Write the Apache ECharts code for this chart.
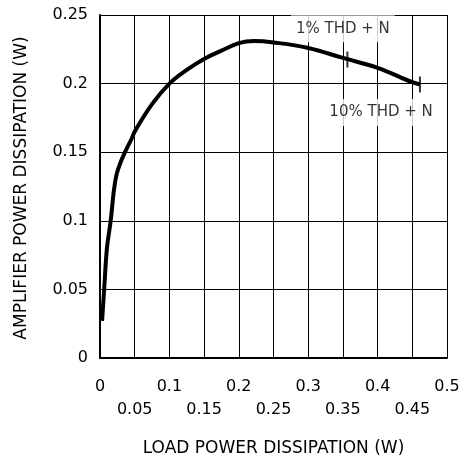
<!DOCTYPE html>
<html><head><meta charset="utf-8">
<script src="https://cdn.jsdelivr.net/npm/echarts@6/dist/echarts.min.js"></script>
<style>html,body{margin:0;padding:0;background:#fff}#c{width:468px;height:462px}</style>
</head><body><div id="c"></div>
<script>
// Curve: load power (W) vs amplifier power dissipation (W)
const loadPower = [0.003, 0.006, 0.010, 0.0154, 0.020, 0.024, 0.030, 0.036, 0.0457, 0.05, 0.075, 0.1, 0.125, 0.15, 0.175, 0.2, 0.222, 0.25, 0.3, 0.35, 0.4, 0.45, 0.461];
const ampPower  = [0.027, 0.050, 0.080, 0.100, 0.122, 0.134, 0.143, 0.150, 0.160, 0.165, 0.185, 0.200, 0.210, 0.218, 0.224, 0.2295, 0.231, 0.230, 0.226, 0.2187, 0.2115, 0.201, 0.1994];
// Tick labels
const xTickLabels = ['0', '0.05', '0.1', '0.15', '0.2', '0.25', '0.3', '0.35', '0.4', '0.45', '0.5'];
const yTickLabels = ['0', '0.05', '0.1', '0.15', '0.2', '0.25'];
// THD markers
const thdNames = ['1% THD + N', '10% THD + N'];
const thdX = [0.3565, 0.461];
const thdY = [0.2175, 0.1994];
const noteX = [0.350, 0.405];
const noteY = [0.240, 0.179];

const FONT = "'DejaVu Sans', sans-serif";
const chart = echarts.init(document.getElementById('c'), null, {renderer: 'canvas'});
const curve = loadPower.map((x, i) => [x, ampPower[i]]);
const ticks = thdX.map((x, i) => [x, thdY[i]]);
const notes = noteX.map((x, i) => ({value: [x, noteY[i]], name: thdNames[i]}));

chart.setOption({
  animation: false,
  backgroundColor: '#fff',
  grid: {left: 100, top: 15, right: 21, bottom: 101},
  xAxis: {
    type: 'value', min: 0, max: 0.5, interval: 0.05,
    axisLine: {show: true, onZero: false, lineStyle: {color: '#000', width: 2}},
    axisTick: {show: false},
    splitLine: {show: true, lineStyle: {color: '#000', width: 1}},
    axisLabel: {
      color: '#000', fontFamily: FONT, fontSize: 16, margin: 17, lineHeight: 23,
      formatter: (v) => {
        const i = Math.round(v / 0.05);
        const t = xTickLabels[i];
        return i % 2 === 1 ? '\n' + t : t;
      }
    },
    name: 'LOAD POWER DISSIPATION (W)', nameLocation: 'middle', nameGap: 82,
    nameTextStyle: {color: '#000', fontFamily: FONT, fontSize: 17}
  },
  yAxis: {
    type: 'value', min: 0, max: 0.25, interval: 0.05,
    axisLine: {show: true, onZero: false, lineStyle: {color: '#000', width: 2}},
    axisTick: {show: false},
    splitLine: {show: true, lineStyle: {color: '#000', width: 1}},
    axisLabel: {
      color: '#000', fontFamily: FONT, fontSize: 16, margin: 12,
      formatter: (v) => yTickLabels[Math.round(v / 0.05)]
    }
  },
  graphic: [{
    type: 'text', x: 22, y: 188, rotation: Math.PI / 2,
    style: {text: 'AMPLIFIER POWER DISSIPATION (W)', fill: '#000', font: '17px ' + FONT,
            textAlign: 'center', textVerticalAlign: 'middle'}
  }],
  series: [
    {type: 'line', data: curve, smooth: 0.4, showSymbol: false,
     lineStyle: {color: '#000', width: 4}, z: 3},
    {type: 'scatter', data: ticks, symbol: 'rect', symbolSize: [2, 16],
     itemStyle: {color: '#000'}, z: 4},
    {type: 'scatter', data: notes, symbolSize: 0, z: 5,
     label: {show: true, position: 'inside', formatter: (p) => p.name,
             color: '#000', fontFamily: FONT, fontSize: 15,
             backgroundColor: '#fff', padding: [6, 5]}}
  ]
});
</script></body></html>
